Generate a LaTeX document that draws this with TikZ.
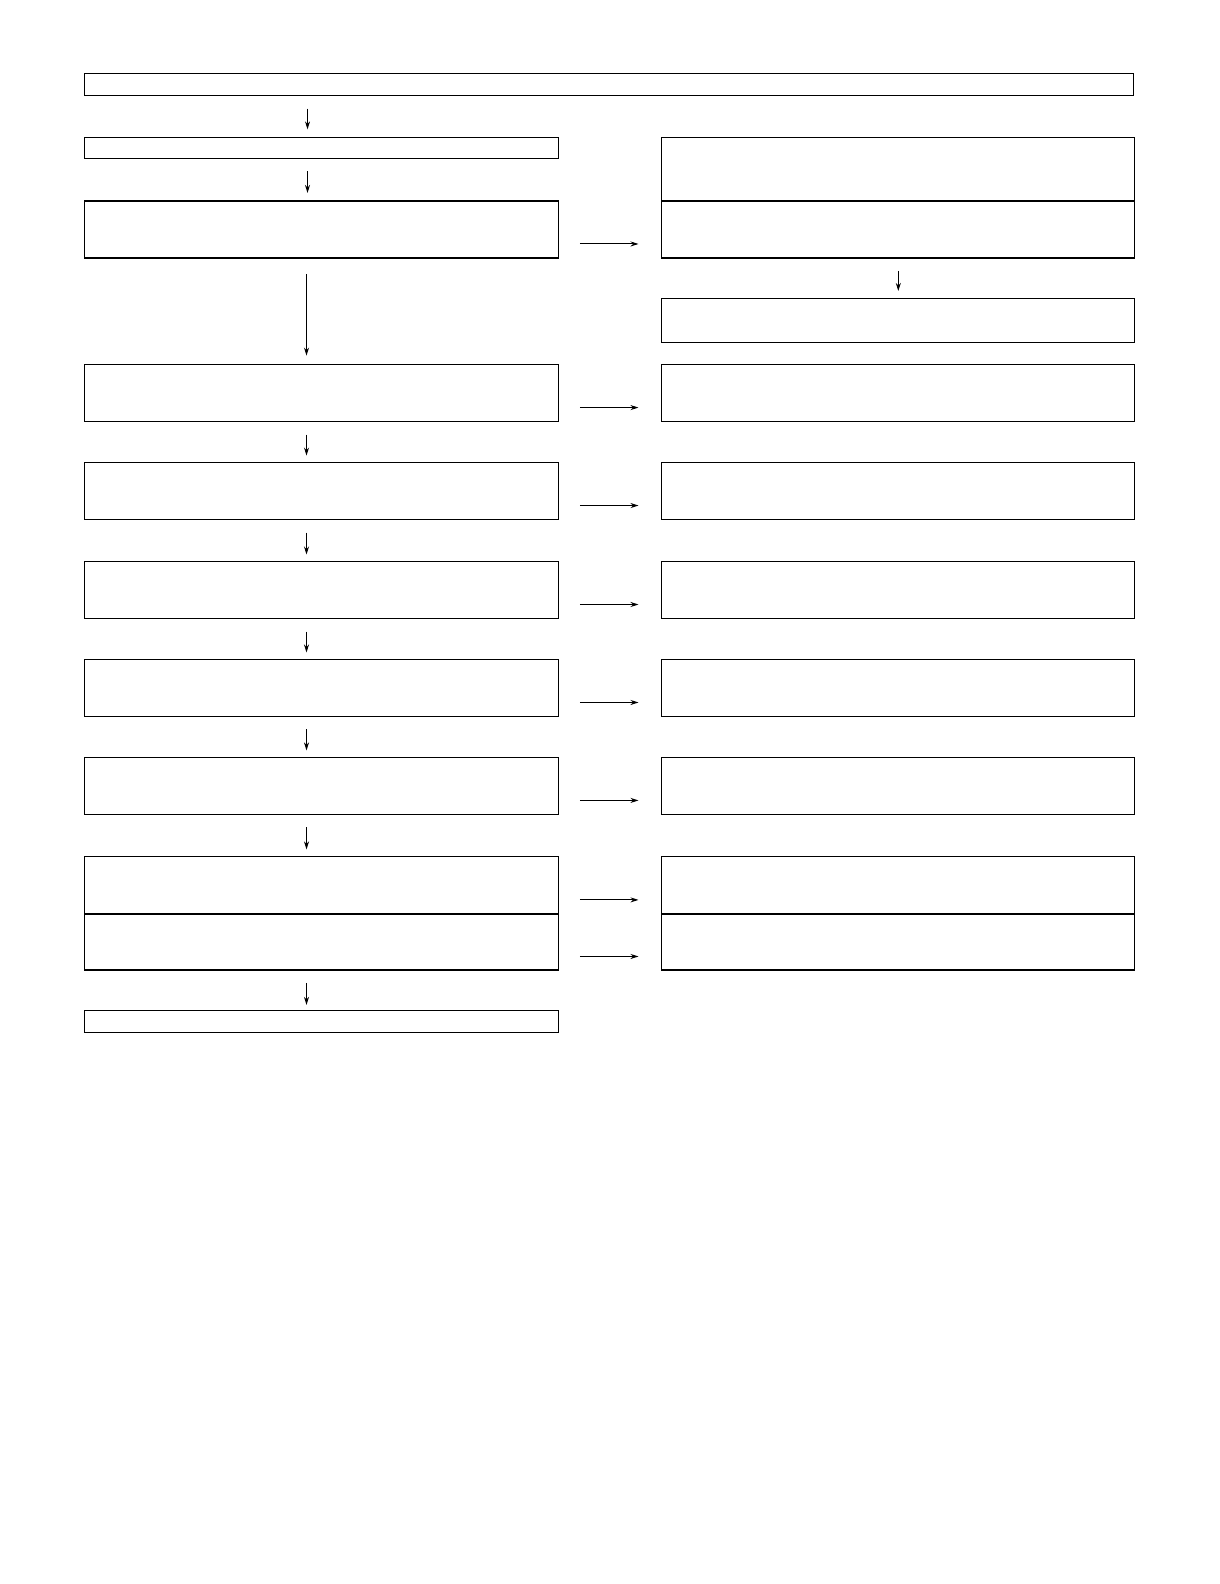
\documentclass[tikz,border=0pt]{standalone}
\usetikzlibrary{arrows.meta}
\begin{document}
\begin{tikzpicture}[x=1pt,y=-1pt,
  box/.style={draw=black,line width=1.1pt,anchor=north west,inner sep=0pt,outer sep=0pt},
  arr/.style={line width=1pt,-{Stealth[length=8pt,width=5pt]}}]
\useasboundingbox (0,0) rectangle (1220,1584);
\fill[white] (0,0) rectangle (1220,1584);
\begin{scope}[x=1.0099pt,y=-1.0099pt,box/.append style={},arr/.append style={}]
% left column boxes
\node[box,minimum width=1049pt,minimum height=22pt] (top) at (84,73) {};
\node[box,minimum width=474pt,minimum height=21pt] (L1) at (84,136) {};
\node[box,minimum width=474pt,minimum height=57pt] (L2) at (84,199) {};
\node[box,minimum width=474pt,minimum height=57pt] (L3) at (84,361) {};
\node[box,minimum width=474pt,minimum height=57pt] (L4) at (84,458) {};
\node[box,minimum width=474pt,minimum height=57pt] (L5) at (84,556) {};
\node[box,minimum width=474pt,minimum height=57pt] (L6) at (84,653) {};
\node[box,minimum width=474pt,minimum height=57pt] (L7) at (84,750) {};
\node[box,minimum width=474pt,minimum height=58pt] (L8a) at (84,848) {};
\node[box,minimum width=474pt,minimum height=56pt] (L8b) at (84,905) {};
\node[box,minimum width=474pt,minimum height=22pt] (L9) at (84,1001) {};
% right column boxes
\node[box,minimum width=473pt,minimum height=64pt] (R1a) at (655,136) {};
\node[box,minimum width=473pt,minimum height=57pt] (R1b) at (655,199) {};
\node[box,minimum width=473pt,minimum height=44pt] (R2) at (655,296) {};
\node[box,minimum width=473pt,minimum height=57pt] (R3) at (655,361) {};
\node[box,minimum width=473pt,minimum height=57pt] (R4) at (655,458) {};
\node[box,minimum width=473pt,minimum height=57pt] (R5) at (655,556) {};
\node[box,minimum width=473pt,minimum height=57pt] (R6) at (655,653) {};
\node[box,minimum width=473pt,minimum height=57pt] (R7) at (655,750) {};
\node[box,minimum width=473pt,minimum height=58pt] (R8a) at (655,848) {};
\node[box,minimum width=473pt,minimum height=56pt] (R8b) at (655,905) {};
% x positions of vertical arrows
\coordinate (cx) at (304.5,0);
\coordinate (cy) at (303.5,0);
\coordinate (rx) at (889.5,0);
% vertical arrows
\draw[arr] ([yshift=-13pt]top.south -| cx) -- ([yshift=8pt]L1.north -| cx);
\draw[arr] ([yshift=-13pt]L1.south -| cx) -- ([yshift=8pt]L2.north -| cx);
\draw[arr] ([yshift=-16pt]L2.south -| cy) -- ([yshift=9pt]L3.north -| cy);
\draw[arr] ([yshift=-13pt]L3.south -| cy) -- ([yshift=7pt]L4.north -| cy);
\draw[arr] ([yshift=-13pt]L4.south -| cy) -- ([yshift=7pt]L5.north -| cy);
\draw[arr] ([yshift=-13pt]L5.south -| cy) -- ([yshift=7pt]L6.north -| cy);
\draw[arr] ([yshift=-13pt]L6.south -| cy) -- ([yshift=7pt]L7.north -| cy);
\draw[arr] ([yshift=-13pt]L7.south -| cy) -- ([yshift=7pt]L8a.north -| cy);
\draw[arr] ([yshift=-13pt]L8b.south -| cy) -- ([yshift=6pt]L9.north -| cy);
\draw[arr] ([yshift=-13pt]R1b.south -| rx) -- ([yshift=8pt]R2.north -| rx);
% horizontal arrows
\draw[arr] ([xshift=21pt,yshift=-14.5pt]L2.east) -- ([xshift=-23pt,yshift=-14.5pt]R1b.west);
\draw[arr] ([xshift=21pt,yshift=-14.5pt]L3.east) -- ([xshift=-23pt,yshift=-14.5pt]R3.west);
\draw[arr] ([xshift=21pt,yshift=-14.5pt]L4.east) -- ([xshift=-23pt,yshift=-14.5pt]R4.west);
\draw[arr] ([xshift=21pt,yshift=-14.5pt]L5.east) -- ([xshift=-23pt,yshift=-14.5pt]R5.west);
\draw[arr] ([xshift=21pt,yshift=-14.5pt]L6.east) -- ([xshift=-23pt,yshift=-14.5pt]R6.west);
\draw[arr] ([xshift=21pt,yshift=-14.5pt]L7.east) -- ([xshift=-23pt,yshift=-14.5pt]R7.west);
\draw[arr] ([xshift=21pt,yshift=-14.5pt]L8a.east) -- ([xshift=-23pt,yshift=-14.5pt]R8a.west);
\draw[arr] ([xshift=21pt,yshift=-14.5pt]L8b.east) -- ([xshift=-23pt,yshift=-14.5pt]R8b.west);
\end{scope}
\end{tikzpicture}
\end{document}
